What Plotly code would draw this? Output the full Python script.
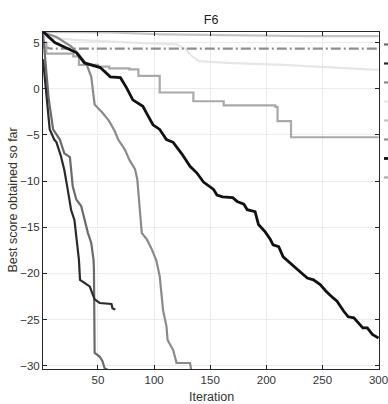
import plotly.graph_objects as go

# Convergence curves on benchmark F6: (iteration, best score) breakpoints

g_iter = [1, 3, 6, 10, 16, 20, 25, 27.5, 30.7, 35, 38, 41, 44, 46, 46.4, 47, 51.5, 54, 56, 58.6]
g_score = [6.0, 3.5, -1.0, -4.4, -5.5, -7.0, -7.4, -10.6, -12.0, -12.7, -14.2, -15.6, -16.7,
           -18.5, -19.6, -28.6, -29.0, -29.5, -30.3, -30.4]

f_iter = [1, 4, 7, 11, 13, 17, 20, 23, 26, 29, 31, 33, 34, 38, 42.6, 47, 51.5, 62, 63, 65.5]
f_score = [3.2, -0.8, -4.4, -5.5, -5.8, -7.3, -8.8, -10.9, -13.1, -14.2, -16.3, -18.5, -20.7,
           -21.0, -21.4, -22.8, -23.2, -23.3, -23.8, -23.9]

h_iter = [1, 13, 26, 33, 40, 44, 47, 54, 60, 65, 68, 74, 78, 83, 85, 87, 89, 93.5, 98, 102,
          105, 108, 111, 112, 117, 120, 132, 133]
h_score = [6.1, 5.6, 4.6, 3.7, 2.6, 1.3, -1.7, -2.6, -3.5, -4.6, -5.5, -6.6, -7.7, -8.7, -9.8,
           -12.8, -15.6, -16.3, -17.4, -18.6, -20.3, -24.0, -25.7, -27.2, -28.3, -29.7, -29.7, -30.4]

c_iter = [1, 30, 80, 120, 128, 133, 140, 165, 215, 250, 300]
c_score = [5.6, 5.3, 5.0, 4.8, 4.3, 3.6, 3.0, 2.8, 2.6, 2.4, 2.05]

a_iter = [1, 60, 108, 235, 300]
a_score = [6.15, 6.1, 5.9, 5.7, 5.7]

b_iter = [1, 8, 300]
b_score = [4.55, 4.35, 4.35]

e_iter = [1, 11.5, 31, 38, 52, 61, 70, 75.5, 81, 90, 94, 99, 105, 111, 117, 125, 132, 138, 144,
          153, 156, 161, 170, 174, 180, 183, 190, 193, 199, 203.5, 206, 211, 215, 221, 227,
          236.5, 242, 248, 253, 259, 263, 269, 273, 278, 282, 286, 290, 294.5, 300]
e_score = [6.2, 5.0, 3.9, 2.8, 2.3, 1.3, 1.2, 0.1, -1.2, -1.9, -2.8, -3.9, -4.4, -5.5, -5.8,
           -7.1, -8.4, -9.1, -10.1, -10.9, -11.5, -11.7, -11.8, -12.2, -12.5, -13.1, -13.3,
           -14.7, -15.5, -16.3, -16.9, -17.1, -18.2, -18.9, -19.5, -20.5, -20.7, -21.2, -21.9,
           -22.6, -23.0, -24.1, -24.7, -24.8, -25.3, -25.9, -25.9, -26.6, -27.0]

d_iter = [1, 4, 28, 33, 50, 60, 78, 86, 105, 135, 162, 208, 210, 222, 300]
d_score = [5.0, 3.8, 3.5, 2.6, 2.4, 2.2, 2.1, 1.4, -0.4, -1.35, -1.8, -1.95, -3.5, -5.25, -5.25]

x_ticks = [50, 100, 150, 200, 250, 300]
y_ticks = [-30, -25, -20, -15, -10, -5, 0, 5]

# (x, y, colour, width, dash, legend rank, line shape) in drawing order;
# black curve last so it sits on top
series = [
    (c_iter, c_score, "#e6e6e6", 2.2, "solid", 4, "linear"),
    (a_iter, a_score, "#c4c4c4", 2.2, "solid", 5, "linear"),
    (b_iter, b_score, "#8f8f8f", 2.2, "10px,3px,2px,3px", 6, "linear"),
    (d_iter, d_score, "#a9a9a9", 2.2, "solid", 8, "hv"),
    (h_iter, h_score, "#8a8a8a", 2.2, "solid", 3, "linear"),
    (g_iter, g_score, "#6b6b6b", 2.2, "solid", 1, "linear"),
    (f_iter, f_score, "#2b2b2b", 2.2, "solid", 2, "linear"),
    (e_iter, e_score, "#111111", 2.8, "solid", 7, "linear"),
]

fig = go.Figure()
for xs, ys, col, w, dash, rank, shp in series:
    fig.add_trace(go.Scatter(
        x=xs, y=ys, mode="lines", name="", legendrank=rank,
        line=dict(color=col, width=w, dash=dash, shape=shp),
    ))

font_family = "Liberation Sans, Arial"
axis_common = dict(
    showline=True, linecolor="#262626", linewidth=1, mirror="ticks",
    ticks="inside", ticklen=4, tickcolor="#262626",
    showgrid=True, gridcolor="#ebebeb", gridwidth=1, zeroline=False,
    ticklabeloverflow="allow",
    tickfont=dict(family=font_family, size=11.5, color="#333333"),
)

fig.update_layout(
    width=388, height=404,
    margin=dict(l=43, r=9, t=32, b=35, autoexpand=False),
    paper_bgcolor="white", plot_bgcolor="white",
    title=dict(text="F6", x=0.544, xanchor="center", y=0.951, yanchor="middle",
               font=dict(family=font_family, size=12.5, color="#1a1a1a")),
    xaxis=dict(range=[1, 300.4], tickvals=x_ticks, **axis_common),
    yaxis=dict(range=[-30.35, 6.15], tickvals=y_ticks, **axis_common),
    legend=dict(x=1.0, xanchor="left", y=1.006, yanchor="top", bgcolor="rgba(0,0,0,0)",
                font=dict(family=font_family, size=10.5, color="#333333"),
                tracegroupgap=0),
    showlegend=True,
)

# Axis titles placed as annotations so they can sit at the figure edge
fig.add_annotation(text="Iteration", xref="paper", yref="paper", x=0.5, y=0,
                   xanchor="center", yanchor="middle", yshift=-28, showarrow=False,
                   font=dict(family=font_family, size=12.5, color="#333333"))
fig.add_annotation(text="Best score obtained so far", xref="paper", yref="paper", x=0, y=0.5,
                   xanchor="center", yanchor="middle", xshift=-31, textangle=-90,
                   showarrow=False, font=dict(family=font_family, size=12.5, color="#333333"))

fig.write_html("out.html")
